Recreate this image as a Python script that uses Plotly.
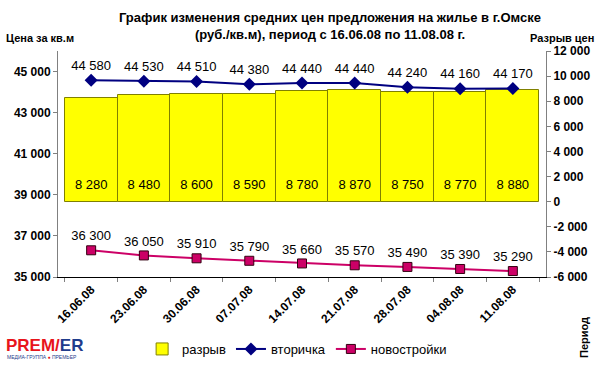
import plotly.graph_objects as go

categories = ["16.06.08", "23.06.08", "30.06.08", "07.07.08", "14.07.08",
              "21.07.08", "28.07.08", "04.08.08", "11.08.08"]
gap_values = [8280, 8480, 8600, 8590, 8780, 8870, 8750, 8770, 8880]
secondary_values = [44580, 44530, 44510, 44380, 44440, 44440, 44240, 44160, 44170]
newbuild_values = [36300, 36050, 35910, 35790, 35660, 35570, 35490, 35390, 35290]
left_ticks = [35000, 37000, 39000, 41000, 43000, 45000]
right_ticks = [-6000, -4000, -2000, 0, 2000, 4000, 6000, 8000, 10000, 12000]


def fmt(v):
    s = f"{abs(v):,}".replace(",", " ")
    return ("-" if v < 0 else "") + s


FONT = "Liberation Sans, Arial, sans-serif"
L, R, T, B = 58, 54, 51, 88
PW, PH = 600 - L - R, 365 - T - B


def px(x):
    return (x - L) / PW


def py(y):
    return 1 - (y - T) / PH


fig = go.Figure()
fig.add_trace(go.Bar(
    x=categories, y=gap_values, name="разрыв", yaxis="y",
    marker=dict(color="#FFFF00", line=dict(color="#808000", width=1)),
    cliponaxis=False,
))
# bar value labels sitting just above each bar's base
fig.add_trace(go.Scatter(
    x=categories, y=[0 for _ in gap_values], yaxis="y", showlegend=False,
    mode="markers+text", marker=dict(size=14, opacity=0),
    text=[fmt(v) for v in gap_values], textposition="top center",
    textfont=dict(color="black", size=13, family=FONT),
    hoverinfo="skip", cliponaxis=False,
))
fig.add_trace(go.Scatter(
    x=categories, y=secondary_values, name="вторичка", yaxis="y2",
    mode="lines+markers+text",
    line=dict(color="#000080", width=2),
    marker=dict(symbol="diamond", size=10, color="#000080"),
    text=[fmt(v) for v in secondary_values], textposition="top center",
    textfont=dict(color="black", size=13, family=FONT),
    cliponaxis=False,
))
fig.add_trace(go.Scatter(
    x=categories, y=newbuild_values, name="новостройки", yaxis="y2",
    mode="lines+markers+text",
    line=dict(color="#CC0066", width=2),
    marker=dict(symbol="square", size=9, color="#CC0066",
                line=dict(color="#330011", width=1)),
    text=[fmt(v) for v in newbuild_values], textposition="top center",
    textfont=dict(color="black", size=13, family=FONT),
    cliponaxis=False,
))

fig.update_layout(
    width=600, height=365,
    margin=dict(l=L, r=R, t=T, b=B, autoexpand=False),
    paper_bgcolor="white", plot_bgcolor="white",
    font=dict(family=FONT, size=12, color="black"),
    bargap=0,
    showlegend=True,
    legend=dict(orientation="h", x=0.49, xanchor="center",
                yref="container", y=(365 - 349) / 365, yanchor="middle",
                font=dict(size=13, family=FONT), itemwidth=30,
                tracegroupgap=0, bgcolor="rgba(0,0,0,0)"),
    xaxis=dict(type="category", tickson="boundaries", ticks="outside", ticklen=4,
               tickcolor="#808080", showline=True, linecolor="black", linewidth=1,
               tickangle=-45, tickfont=dict(size=12, family=FONT, weight="bold"),
               showgrid=False, zeroline=False, automargin=False),
    yaxis=dict(side="right", range=[-6000, 12000], tickvals=right_ticks,
               ticktext=[fmt(v) for v in right_ticks], ticks="outside", ticklen=4,
               tickcolor="#808080", showline=True, linecolor="#808080",
               tickfont=dict(size=12, family=FONT, weight="bold"),
               showgrid=False, zeroline=False, automargin=False),
    yaxis2=dict(side="left", overlaying="y", range=[35000, 46000], tickvals=left_ticks,
                ticktext=[fmt(v) for v in left_ticks], ticks="outside", ticklen=4,
                tickcolor="#808080", showline=True, linecolor="#808080",
                tickfont=dict(size=12, family=FONT, weight="bold"),
                showgrid=False, zeroline=False, automargin=False),
)

fig.add_annotation(text="<b>График изменения средних цен предложения на жилье в г.Омске</b>",
                   xref="paper", yref="paper", x=px(330), y=py(17),
                   showarrow=False, font=dict(size=13, family=FONT),
                   xanchor="center", yanchor="middle")
fig.add_annotation(text="<b>(руб./кв.м), период с 16.06.08 по 11.08.08 г.</b>",
                   xref="paper", yref="paper", x=px(330), y=py(35),
                   showarrow=False, font=dict(size=13, family=FONT),
                   xanchor="center", yanchor="middle")
fig.add_annotation(text="<b>Цена за кв.м</b>", xref="paper", yref="paper",
                   x=px(4), y=py(38), xanchor="left", yanchor="middle",
                   showarrow=False, font=dict(size=11, family=FONT))
fig.add_annotation(text="<b>Разрыв цен</b>", xref="paper", yref="paper",
                   x=px(596), y=py(38), xanchor="right",
                   yanchor="middle", showarrow=False, font=dict(size=11, family=FONT))
fig.add_annotation(text="<b>Период</b>", xref="paper", yref="paper",
                   x=px(584), y=py(338), xanchor="center",
                   yanchor="middle", textangle=-90, showarrow=False,
                   font=dict(size=11, family=FONT))
fig.add_annotation(text="<b><span style='color:#E8141B'>PREM/</span>"
                        "<span style='color:#1F3C8C'>ER</span></b>",
                   xref="paper", yref="paper", x=px(4), y=py(345),
                   xanchor="left", yanchor="middle", showarrow=False,
                   font=dict(size=17, family=FONT))
fig.add_annotation(text="МЕДИА-ГРУППА <span style='color:#E8141B'>●</span> ПРЕМЬЕР",
                   xref="paper", yref="paper", x=px(5), y=py(357),
                   xanchor="left", yanchor="middle", showarrow=False,
                   font=dict(size=5, family=FONT, color="#1F3C8C"))

fig.write_html("out.html",
               config={"displayModeBar": False},
               post_script="document.body.style.margin='0';"
                           "document.body.style.overflow='hidden';")
